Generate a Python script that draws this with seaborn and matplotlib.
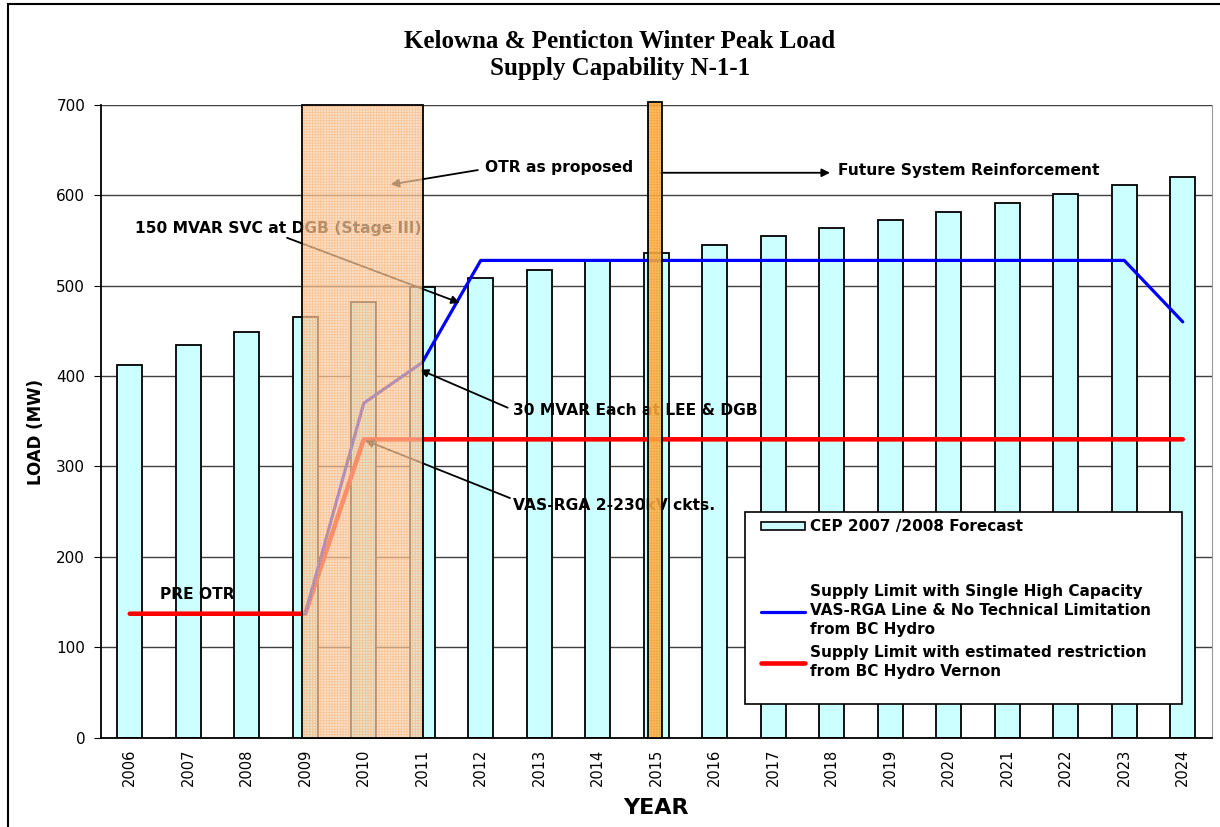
import numpy as np
import pandas as pd
import matplotlib
matplotlib.use("Agg")
import matplotlib.pyplot as plt
import seaborn as sns
from matplotlib.patches import Rectangle, Patch
from matplotlib.lines import Line2D

# data
years = [str(y) for y in range(2006, 2025)]
forecast = [412, 434, 449, 465, 482, 499, 508, 517, 527, 536,
            545, 555, 564, 573, 582, 592, 601, 611, 620]

blue_years = [str(y) for y in range(2009, 2025)]
blue_limit = [137, 370, 415, 528, 528, 528, 528, 528, 528, 528,
              528, 528, 528, 528, 528, 460]

red_years = years
red_limit = [137, 137, 137, 137, 330, 330, 330, 330, 330, 330,
             330, 330, 330, 330, 330, 330, 330, 330, 330]

bar_label = "CEP 2007 /2008 Forecast"
blue_label = "Supply Limit with Single High Capacity\nVAS-RGA Line & No Technical Limitation\nfrom BC Hydro"
red_label = "Supply Limit with estimated restriction\nfrom BC Hydro Vernon"

sns.set_style("white")
plt.rcParams['font.family'] = ['DejaVu Sans']
plt.rcParams['hatch.linewidth'] = 0.6
for k in ["text.color", "axes.labelcolor", "xtick.color", "ytick.color"]:
    plt.rcParams[k] = "black"

fig = plt.figure(figsize=(12.2, 8.27), dpi=100)
ax = fig.add_axes([100.5 / 1220, 1 - 737.5 / 827, (1212 - 100.5) / 1220, 632.5 / 827])

df = pd.DataFrame({"year": years, "load": forecast})
sns.barplot(data=df, x="year", y="load", color="#CCFFFF", saturation=1,
            width=0.43, edgecolor="black", linewidth=1.3, ax=ax, zorder=2)

pos = {y: i for i, y in enumerate(years)}
sns.lineplot(x=[pos[y] for y in red_years], y=red_limit, color="#FF0000",
             linewidth=3.3, sort=False, ax=ax, zorder=3)
sns.lineplot(x=[pos[y] for y in blue_years], y=blue_limit, color="#0000FF",
             linewidth=2.3, sort=False, ax=ax, zorder=3)

ax.set_xlim(-0.5, 18.5)
ax.set_ylim(0, 700)
ax.set_yticks(range(0, 701, 100))
ax.set_xticks(range(len(years)))
ax.set_xticklabels(years, rotation=90, fontsize=10.5)
ax.set_xticks(np.arange(-0.5, 19, 1), minor=True)
ax.tick_params(axis="x", which="major", length=0, pad=8)
ax.tick_params(axis="x", which="minor", length=5, direction="out", color="black")
ax.tick_params(axis="y", length=5, direction="out", labelsize=11, pad=6, left=True)
ax.yaxis.grid(True, color="#404040", linewidth=1)
ax.set_axisbelow(True)
for s in ["left", "bottom"]:
    ax.spines[s].set_color("black")
    ax.spines[s].set_linewidth(1.3)
ax.spines["top"].set_visible(False)
ax.spines["right"].set_color("#999999")

ax.set_xlabel("YEAR", fontsize=16, fontweight="bold")
ax.xaxis.set_label_coords(0.5, -0.095)
ax.set_ylabel("LOAD (MW)", fontsize=12, fontweight="bold")
ax.yaxis.set_label_coords(-0.05, 0.483)

# annotations
txt = dict(fontsize=11.2, fontweight="bold", ha="left", va="center", zorder=4)
ax.text(6.07, 631, "OTR as proposed", **txt)
ax.text(12.1, 628, "Future System Reinforcement", **txt)
ax.text(0.09, 563, "150 MVAR SVC at DGB (Stage III)", **txt)
ax.text(6.55, 362, "30 MVAR Each at LEE & DGB", **txt)
ax.text(6.55, 257, "VAS-RGA 2-230kV ckts.", **txt)
ax.text(0.52, 158, "PRE OTR", **txt)

arrows = [((5.95, 628), (4.46, 612)),
          ((9.06, 625), (11.97, 625)),
          ((2.69, 553), (5.64, 481)),
          ((6.46, 365), (4.96, 407)),
          ((6.50, 265), (4.02, 329))]
for start, end in arrows:
    ax.annotate("", xy=end, xytext=start, zorder=4,
                arrowprops=dict(arrowstyle="-|>", color="black", lw=1.3,
                                mutation_scale=12, shrinkA=0, shrinkB=0))

# OTR shaded periods
def shade(x0, x1, top, face, hatch_col, alpha):
    ax.add_patch(Rectangle((x0, 0), x1 - x0, top, facecolor=face, alpha=alpha,
                           edgecolor="none", zorder=5, clip_on=False))
    ax.add_patch(Rectangle((x0, 0), x1 - x0, top, fill=False, hatch="++++++",
                           edgecolor=hatch_col, linewidth=0, alpha=0.45,
                           zorder=5, clip_on=False))
    ax.add_patch(Rectangle((x0, 0), x1 - x0, top, fill=False, edgecolor="black",
                           linewidth=1.3, zorder=6, clip_on=False))

shade(2.94, 5.01, 700, "#FBD2AC", "#F4A460", 0.65)
shade(8.86, 9.09, 703, "#FFB34D", "#E8901A", 0.85)

# legend
ax.add_patch(Rectangle((0.580, 0.053), 0.393, 0.3035, transform=ax.transAxes,
                       facecolor="white", edgecolor="black", linewidth=1.2, zorder=7))
handles = [Patch(facecolor="#CCFFFF", edgecolor="black", linewidth=1.2),
           Line2D([], [], color="none"),
           Line2D([], [], color="#0000FF", linewidth=2.3),
           Line2D([], [], color="#FF0000", linewidth=3.3)]
labels = [bar_label, "\n", blue_label, red_label]
leg = ax.legend(handles, labels, loc="upper left", bbox_to_anchor=(0.594, 0.345),
                frameon=False, prop={"weight": "bold", "size": 11},
                handlelength=2.9, handleheight=0.5, handletextpad=0.35,
                labelspacing=0.5, borderpad=0, borderaxespad=0)
for t in leg.get_texts():
    t.set_linespacing(1.35)
leg.set_zorder(8)

fig.text(0.508, 1 - 42 / 827, "Kelowna & Penticton Winter Peak Load",
         family=["Liberation Serif", "DejaVu Serif"], fontsize=18,
         fontweight="bold", ha="center", va="center")
fig.text(0.508, 1 - 69 / 827, "Supply Capability N-1-1",
         family=["Liberation Serif", "DejaVu Serif"], fontsize=18,
         fontweight="bold", ha="center", va="center")

fig.patches.append(Rectangle((8 / 1220, -0.01), 1.1, 1.0052, transform=fig.transFigure,
                             fill=False, edgecolor="black", linewidth=1.5))

fig.savefig("out.png", dpi=100)
